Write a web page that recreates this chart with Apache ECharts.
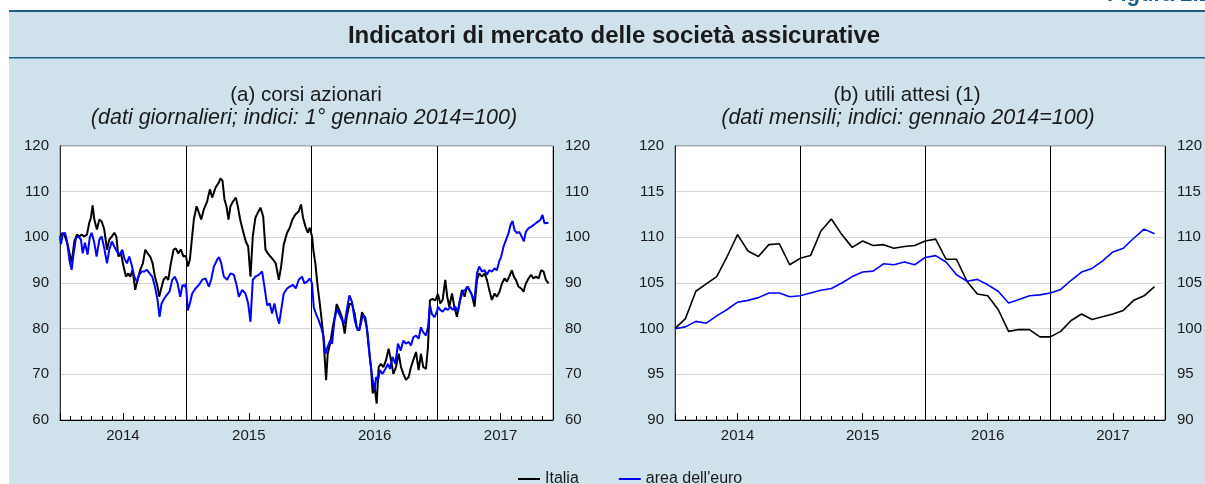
<!DOCTYPE html>
<html>
<head>
<meta charset="utf-8">
<title>Indicatori di mercato delle società assicurative</title>
<script src="https://cdn.jsdelivr.net/npm/echarts@6/dist/echarts.min.js"></script>
<style>
html,body{margin:0;padding:0;background:#fff;}
#main{width:1205px;height:484px;}
</style>
</head>
<body>
<div id="main"></div>
<script>
// anni dell'asse x (mesi da gennaio 2014)
var years = ['2014', '2015', '2016', '2017'];

// (a) corsi azionari, dati giornalieri: tempo in mesi da 1/1/2014
var itaT = [0.00,0.25,0.48,0.73,1.11,1.37,1.62,1.84,2.06,2.32,2.57,2.79,2.95,3.11,3.27,3.52,3.75,3.97,4.22,4.48,
	4.70,4.95,5.17,5.37,5.56,5.81,6.06,6.29,6.51,6.70,6.92,7.17,7.40,7.65,7.90,8.13,8.35,8.60,8.83,9.05,
	9.30,9.46,9.62,9.87,10.10,10.32,10.57,10.83,11.05,11.27,11.52,11.78,12.00,
	12.19,12.38,12.60,12.76,13.02,13.24,13.46,13.71,14.03,14.29,14.51,14.83,15.14,15.30,15.49,15.68,15.87,16.06,16.25,16.51,
	16.76,16.95,17.21,17.46,17.71,17.94,18.16,18.38,18.63,18.86,19.11,19.37,19.59,19.81,20.06,20.32,20.57,20.86,21.08,21.33,
	21.65,21.90,22.16,22.44,22.76,22.98,23.17,23.40,23.62,23.81,24.03,
	24.16,24.35,24.57,24.73,24.92,25.11,25.37,25.52,25.75,26.00,26.25,26.38,26.63,26.89,27.14,27.33,27.59,27.84,28.10,28.29,
	28.54,28.79,29.02,29.24,29.43,29.65,29.81,30.00,30.19,30.38,30.60,30.83,31.08,31.33,31.56,31.78,32.03,32.29,32.51,32.73,
	32.98,33.24,33.46,33.68,33.94,34.19,34.41,34.63,34.89,35.08,35.27,35.52,35.78,36.03,
	36.25,36.48,36.73,36.92,37.11,37.37,37.59,37.84,38.06,38.32,38.57,38.79,39.02,39.27,39.52,39.75,39.97,40.22,40.48,40.70,
	40.92,41.17,41.43,41.65,41.90,42.13,42.38,42.60,42.83,43.08,43.27,43.46,43.71,43.97,44.19,44.41,44.67,44.92,45.14,45.37,
	45.62,45.87,46.10,46.32,46.57];
var itaV = [100.0,101.0,100.2,98.4,94.5,99.1,100.6,100.2,100.6,100.2,100.6,103.2,104.3,107.0,103.9,101.7,103.9,103.5,101.7,97.3,
	99.5,100.2,101.0,100.2,95.8,96.5,93.6,91.4,92.1,91.4,92.9,88.5,90.7,92.9,94.3,97.3,96.5,95.8,94.3,91.4,
	89.2,87.0,88.5,90.7,91.4,90.7,94.3,97.3,97.6,96.5,97.3,95.8,96.0,
	93.6,95.1,100.2,103.9,106.8,105.4,103.9,106.1,107.9,110.5,108.7,110.9,112.0,112.9,112.4,108.3,106.8,103.9,106.8,107.9,
	108.7,106.8,103.5,101.3,99.1,98.0,91.4,100.2,104.3,105.4,106.5,104.6,97.3,96.5,95.8,95.1,94.3,90.7,93.6,98.4,
	101.0,102.1,103.9,105.0,105.7,107.2,104.3,102.4,101.0,102.1,100.2,
	97.1,94.2,89.1,86.2,82.5,78.1,68.7,74.5,76.7,80.3,83.2,85.4,84.0,82.5,78.9,82.5,85.4,85.4,83.2,80.3,
	79.6,83.6,82.5,80.3,76.0,71.6,65.8,67.2,63.6,71.6,72.3,71.6,73.1,75.6,73.1,70.1,71.6,74.5,71.6,70.1,
	68.8,69.4,71.6,73.1,74.9,70.9,74.5,71.6,71.2,76.0,86.2,86.5,86.2,87.6,
	85.5,86.3,90.7,87.0,84.8,87.7,84.8,82.6,85.5,88.5,87.0,89.2,88.5,87.4,84.8,90.7,92.1,91.4,92.1,90.7,
	88.5,86.3,87.7,87.0,88.1,89.9,91.0,90.3,91.4,92.8,91.4,90.7,89.2,88.8,88.1,89.9,91.0,91.8,91.0,91.4,
	91.0,92.8,92.5,90.7,89.9];

var eurT = [0.00,0.10,0.25,0.48,0.67,0.89,1.11,1.30,1.52,1.75,2.00,2.16,2.38,2.63,2.83,3.02,3.27,3.49,3.75,3.97,
	4.22,4.48,4.70,4.95,5.17,5.43,5.68,5.94,6.13,6.38,6.60,6.83,7.08,7.33,7.56,7.78,8.03,8.29,8.54,8.79,
	9.05,9.30,9.49,9.68,9.94,10.19,10.44,10.70,10.95,11.21,11.46,11.68,11.90,12.00,
	12.19,12.38,12.60,12.92,13.24,13.56,13.87,14.19,14.41,14.67,14.98,15.17,15.37,15.62,15.94,16.25,16.57,16.83,17.05,17.37,
	17.68,17.94,18.16,18.38,18.63,18.95,19.27,19.49,19.75,20.00,20.22,20.44,20.70,20.89,21.08,21.33,21.65,21.90,22.22,22.48,
	22.76,23.08,23.30,23.56,23.81,24.03,
	24.19,24.41,24.67,24.89,25.11,25.30,25.52,25.75,25.94,26.16,26.38,26.63,26.89,27.14,27.33,27.59,27.84,28.10,28.38,28.60,
	28.86,29.11,29.33,29.56,29.81,30.00,30.13,30.32,30.51,30.76,31.02,31.27,31.46,31.71,31.97,32.22,32.48,32.73,32.98,33.24,
	33.46,33.68,33.94,34.19,34.41,34.63,34.89,35.08,35.27,35.46,35.71,35.97,
	36.03,36.25,36.48,36.73,36.98,37.21,37.43,37.68,37.94,38.16,38.38,38.63,38.89,39.11,39.33,39.52,39.75,39.97,40.22,40.48,
	40.70,40.92,41.17,41.43,41.65,41.87,42.06,42.29,42.51,42.76,42.95,43.14,43.33,43.56,43.78,44.03,44.22,44.41,44.67,44.92,
	45.14,45.37,45.56,45.78,46.00,46.19,46.38,46.57];
var eurV = [100.0,98.5,100.6,101.0,99.1,95.1,92.9,96.5,99.9,100.2,99.5,96.5,98.8,96.2,99.9,101.0,98.8,95.8,99.5,100.2,
	97.6,94.3,97.3,99.1,98.0,96.9,96.2,97.3,95.4,94.3,95.8,94.0,91.4,90.3,91.8,92.5,92.5,92.9,92.1,91.4,
	89.2,86.3,82.6,85.5,86.6,87.4,88.1,90.7,91.4,89.9,87.0,89.6,89.2,89.9,
	84.0,85.5,87.7,88.8,89.6,90.7,91.0,89.2,90.7,93.6,95.1,95.7,94.3,91.4,90.7,92.1,91.8,89.6,87.0,88.5,
	87.7,85.5,81.5,90.7,91.4,91.8,92.5,89.2,85.1,85.5,83.3,85.5,82.6,81.1,84.0,87.7,88.8,89.2,89.6,88.8,
	90.7,91.4,89.9,90.3,91.0,89.9,
	84.7,83.2,81.8,80.3,78.5,74.5,76.0,77.4,76.7,81.8,84.3,83.2,81.8,81.1,84.0,87.3,85.8,81.8,79.6,80.3,
	82.9,82.5,78.9,73.1,68.7,66.5,69.4,68.7,70.9,70.1,71.2,72.3,71.2,73.8,72.3,76.7,75.2,77.4,76.7,77.1,
	76.3,78.1,78.5,77.8,80.3,79.2,78.5,80.3,85.1,83.2,82.5,84.0,
	84.8,84.1,83.7,84.5,84.1,84.8,84.1,84.8,83.7,86.3,88.1,88.5,89.2,88.1,87.0,86.3,92.1,93.6,92.5,92.8,
	91.8,92.8,92.5,93.2,92.8,94.7,95.8,98.0,99.4,100.9,102.7,103.6,101.6,100.9,101.2,100.1,99.1,101.2,102.0,102.3,
	102.7,103.1,103.1,103.8,104.9,103.1,103.4,103.2];

// (b) utili attesi, dati mensili da gennaio 2014
var itaMens = [100.0,101.1,104.1,104.9,105.7,107.9,110.3,108.5,107.9,109.2,109.3,107.0,
	107.7,108.0,110.7,112.0,110.3,108.9,109.6,109.1,109.2,108.8,109.0,109.1,
	109.6,109.8,107.6,107.6,105.2,103.8,103.6,102.1,99.7,99.9,99.9,99.1,
	99.1,99.7,100.9,101.6,101.0,101.3,101.6,102.0,103.1,103.6,104.6];
var eurMens = [100.0,100.2,100.8,100.6,101.4,102.1,102.9,103.1,103.4,103.9,103.9,103.5,
	103.6,103.9,104.2,104.4,105.0,105.7,106.2,106.3,107.1,107.0,107.3,107.0,
	107.8,108.0,107.3,105.9,105.2,105.4,104.8,104.1,102.8,103.2,103.6,103.7,
	103.9,104.3,105.3,106.2,106.6,107.4,108.4,108.8,109.9,110.9,110.4];

function zip(t, v) {
	var out = [];
	for (var i = 0; i < t.length; i++) out.push([t[i], v[i]]);
	return out;
}
function mesi(v) {
	var out = [];
	for (var i = 0; i < v.length; i++) out.push([i, v[i]]);
	return out;
}

var FONT = "'Liberation Sans', Arial, Helvetica, sans-serif";
var TXT = '#1a1a1a';

// tre assi x per ogni riquadro: tacche mensili, tacche semestrali + anni, linee di fine anno
function xAssi(g) {
	return [{
		gridIndex: g, type: 'value', min: 0, max: 47, interval: 1, position: 'bottom',
		axisLine: { show: true, lineStyle: { color: '#000', width: 1 } },
		axisTick: { show: true, inside: true, length: 4, lineStyle: { color: '#000' } },
		axisLabel: { show: false }, splitLine: { show: false }
	}, {
		gridIndex: g, type: 'value', min: 0, max: 47, interval: 6, position: 'bottom',
		axisLine: { show: false },
		axisTick: { show: true, inside: true, length: 7, lineStyle: { color: '#000' } },
		axisLabel: {
			show: true, margin: 8, fontSize: 15, fontFamily: FONT, color: TXT,
			formatter: function (v) { return v % 12 === 6 ? years[(v - 6) / 12] : ''; }
		},
		splitLine: { show: false }
	}, {
		gridIndex: g, type: 'value', min: 0, max: 47, interval: 12, position: 'top',
		axisLine: { show: false }, axisTick: { show: false }, axisLabel: { show: false },
		splitLine: { show: true, lineStyle: { color: '#000', width: 1 } }
	}];
}
function yAssi(g, min, max, step) {
	return [{
		gridIndex: g, type: 'value', min: min, max: max, interval: step, position: 'left',
		axisLine: { show: true, lineStyle: { color: '#000' } }, axisTick: { show: false },
		axisLabel: { margin: 11, fontSize: 15, fontFamily: FONT, color: TXT },
		splitLine: { show: true, lineStyle: { color: '#d6d6d6', width: 1 } }
	}, {
		gridIndex: g, type: 'value', min: min, max: max, interval: step, position: 'right',
		axisLine: { show: true, lineStyle: { color: '#333' } }, axisTick: { show: false },
		axisLabel: { margin: 12, fontSize: 15, fontFamily: FONT, color: TXT },
		splitLine: { show: false }
	}];
}

var myChart = echarts.init(document.getElementById('main'), null, { renderer: 'canvas' });

option = {
	animation: false,
	graphic: [
		{ type: 'rect', z: -10, silent: true, shape: { x: 9, y: 11, width: 1196, height: 473 }, style: { fill: '#cfe1ea' } },
		{ type: 'rect', z: -9, silent: true, shape: { x: 9, y: 10, width: 1196, height: 2 }, style: { fill: '#1a5f8a' } },
		{ type: 'rect', z: -9, silent: true, shape: { x: 9, y: 57, width: 1196, height: 1.5 }, style: { fill: '#1a5f8a' } },
		{ type: 'text', x: 1107, y: 6, style: { text: 'Figura 2.1', font: 'bold 22px ' + FONT, fill: '#1a5f8a', textAlign: 'left', textVerticalAlign: 'bottom' } },
		{ type: 'text', x: 614, y: 36, style: { text: 'Indicatori di mercato delle società assicurative', font: 'bold 24px ' + FONT, fill: TXT, textAlign: 'center', textVerticalAlign: 'middle' } },
		{ type: 'text', x: 306, y: 95, style: { text: '(a) corsi azionari', font: '20.5px ' + FONT, fill: TXT, textAlign: 'center', textVerticalAlign: 'middle' } },
		{ type: 'text', x: 304, y: 118, style: { text: '(dati giornalieri; indici: 1° gennaio 2014=100)', font: 'italic 21.5px ' + FONT, fill: TXT, textAlign: 'center', textVerticalAlign: 'middle' } },
		{ type: 'text', x: 907, y: 95, style: { text: '(b) utili attesi (1)', font: '20.5px ' + FONT, fill: TXT, textAlign: 'center', textVerticalAlign: 'middle' } },
		{ type: 'text', x: 908, y: 118, style: { text: '(dati mensili; indici: gennaio 2014=100)', font: 'italic 21.5px ' + FONT, fill: TXT, textAlign: 'center', textVerticalAlign: 'middle' } }
	],
	grid: [
		{ left: 60, top: 146, width: 493, height: 274, show: true, backgroundColor: '#fff', borderColor: '#777', borderWidth: 1 },
		{ left: 675, top: 146, width: 492, height: 274, show: true, backgroundColor: '#fff', borderColor: '#777', borderWidth: 1 }
	],
	xAxis: xAssi(0).concat(xAssi(1)),
	yAxis: yAssi(0, 60, 120, 10).concat(yAssi(1, 90, 120, 5)),
	legend: {
		left: 513, top: 466, icon: 'rect', itemWidth: 22, itemHeight: 2, itemGap: 40,
		textStyle: { fontSize: 16, fontFamily: FONT, color: TXT },
		data: ['Italia', "area dell'euro"]
	},
	series: [{
		name: 'Italia', type: 'line', xAxisIndex: 0, yAxisIndex: 0, symbol: 'none',
		lineStyle: { color: '#000', width: 2 }, itemStyle: { color: '#000' },
		data: zip(itaT, itaV)
	}, {
		name: "area dell'euro", type: 'line', xAxisIndex: 0, yAxisIndex: 0, symbol: 'none',
		lineStyle: { color: '#0000ff', width: 2 }, itemStyle: { color: '#0000ff' },
		data: zip(eurT, eurV)
	}, {
		name: 'Italia', type: 'line', xAxisIndex: 3, yAxisIndex: 2, symbol: 'none',
		lineStyle: { color: '#000', width: 1.6 }, itemStyle: { color: '#000' },
		data: mesi(itaMens)
	}, {
		name: "area dell'euro", type: 'line', xAxisIndex: 3, yAxisIndex: 2, symbol: 'none',
		lineStyle: { color: '#0000ff', width: 1.6 }, itemStyle: { color: '#0000ff' },
		data: mesi(eurMens)
	}]
};
myChart.setOption(option);
</script>
</body>
</html>
